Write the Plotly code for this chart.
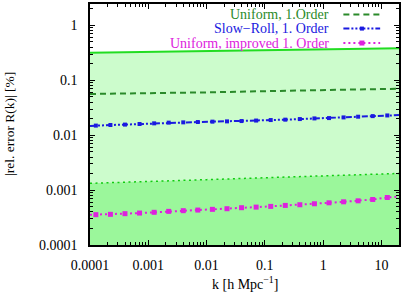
import plotly.graph_objects as go

# ---------------- data ----------------
k_env = [1e-4, 1e-3, 1e-2, 0.1, 1, 10, 20]
uniform_env = [0.317, 0.328, 0.340, 0.352, 0.365, 0.379, 0.385]        # solid green (light fill)
improved_env = [0.00133, 0.00142, 0.00155, 0.00168, 0.00183, 0.00196, 0.00201]  # dotted green (dark fill)
uniform_1st = [0.0564, 0.0578, 0.0603, 0.0634, 0.0666, 0.0694, 0.0703]  # dashed dark green

k_pts = [1.26e-4, 2.24e-4, 3.98e-4, 7.08e-4, 1.26e-3, 2.24e-3, 3.98e-3, 7.08e-3,
         0.0126, 0.0224, 0.0398, 0.0708, 0.126, 0.224, 0.398, 0.708,
         1.26, 2.24, 3.98, 7.08, 12.6]
slowroll_1st = [0.01496, 0.01535, 0.01560, 0.01600, 0.01644, 0.01694, 0.01714, 0.01738,
                0.01766, 0.01786, 0.01811, 0.01849, 0.01888, 0.01919, 0.01968, 0.02023,
                0.02051, 0.02109, 0.02173, 0.02228, 0.02291]
slowroll_ends = [0.01472, 0.02323]
improved_1st = [0.000357, 0.000362, 0.000372, 0.000382, 0.000394, 0.000410, 0.000422, 0.000433,
                0.000446, 0.000458, 0.000478, 0.000490, 0.000505, 0.000526, 0.000541, 0.000564,
                0.000587, 0.000612, 0.000638, 0.000675, 0.000733]
improved_ends = [0.000355, 0.000764]
k_ends = [1e-4, 20]

x_ticks = [1e-4, 1e-3, 1e-2, 0.1, 1, 10]
x_ticktext = ["0.0001", "0.001", "0.01", "0.1", "1", "10"]
y_ticks = [1e-4, 1e-3, 1e-2, 0.1, 1]
y_ticktext = ["0.0001", "0.001", "0.01", "0.1", "1"]

legend_labels = ["Uniform, 1.Order", "Slow\u2212Roll, 1. Order", "Uniform, improved 1. Order"]

# ---------------- style ----------------
FONT = "Liberation Serif"
C_GREEN_DARK = "#2a8a2a"
C_BLUE = "#1a1ae0"
C_MAG = "#dd22dd"
C_LIGHT_FILL = "#ccfccc"
C_DARK_FILL = "#9bf79b"
C_LINE_GREEN = "#22dd22"
C_DOT_GREEN = "#11cc11"

fig = go.Figure()

base = [1e-6] * len(k_env)
fig.add_trace(go.Scatter(x=k_env, y=base, mode="lines", line=dict(width=0), showlegend=False, hoverinfo="skip"))
fig.add_trace(go.Scatter(x=k_env, y=uniform_env, mode="lines", fill="tonexty", fillcolor=C_LIGHT_FILL,
                         line=dict(color=C_LINE_GREEN, width=2), showlegend=False))
fig.add_trace(go.Scatter(x=k_env, y=base, mode="lines", line=dict(width=0), showlegend=False, hoverinfo="skip"))
fig.add_trace(go.Scatter(x=k_env, y=improved_env, mode="lines", fill="tonexty", fillcolor=C_DARK_FILL,
                         line=dict(color=C_DOT_GREEN, width=1.5, dash="2px,3.5px"), showlegend=False))

fig.add_trace(go.Scatter(x=k_env, y=uniform_1st, mode="lines",
                         line=dict(color=C_GREEN_DARK, width=2, dash="6px,4px"), showlegend=False))

k_line = [k_ends[0]] + k_pts + [k_ends[1]]
sr_line = [slowroll_ends[0]] + slowroll_1st + [slowroll_ends[1]]
im_line = [improved_ends[0]] + improved_1st + [improved_ends[1]]

fig.add_trace(go.Scatter(x=k_line, y=sr_line, mode="lines",
                         line=dict(color=C_BLUE, width=2, dash="6px,2px,2px,2px,2px,2px"), showlegend=False))
fig.add_trace(go.Scatter(x=k_pts, y=slowroll_1st, mode="markers",
                         marker=dict(symbol="square", size=4, color=C_BLUE), showlegend=False))
fig.add_trace(go.Scatter(x=k_line, y=im_line, mode="lines",
                         line=dict(color=C_MAG, width=2, dash="2px,3px"), showlegend=False))
fig.add_trace(go.Scatter(x=k_pts, y=improved_1st, mode="markers",
                         marker=dict(symbol="square", size=5, color=C_MAG), showlegend=False))

# ---- manual gnuplot-style legend (text right-aligned, sample on the right) ----
leg_y = [0.956, 0.898, 0.838]
leg_colors = [C_GREEN_DARK, C_BLUE, C_MAG]
sx0, sx1, smid = 0.820, 0.939, 0.880
fig.add_trace(go.Scatter(x=[sx0, sx1], y=[leg_y[0]] * 2, xaxis="x2", yaxis="y2", mode="lines",
                         line=dict(color=C_GREEN_DARK, width=2, dash="6px,4px"), showlegend=False))
fig.add_trace(go.Scatter(x=[sx0, sx1], y=[leg_y[1]] * 2, xaxis="x2", yaxis="y2", mode="lines",
                         line=dict(color=C_BLUE, width=2, dash="6px,2px,2px,2px,2px,2px"), showlegend=False))
fig.add_trace(go.Scatter(x=[smid], y=[leg_y[1]], xaxis="x2", yaxis="y2", mode="markers",
                         marker=dict(symbol="square", size=4, color=C_BLUE), showlegend=False))
fig.add_trace(go.Scatter(x=[sx0, sx1], y=[leg_y[2]] * 2, xaxis="x2", yaxis="y2", mode="lines",
                         line=dict(color=C_MAG, width=2, dash="2px,3px"), showlegend=False))
fig.add_trace(go.Scatter(x=[smid], y=[leg_y[2]], xaxis="x2", yaxis="y2", mode="markers",
                         marker=dict(symbol="square", size=5, color=C_MAG), showlegend=False))

annotations = []
for lab, yy, cc in zip(legend_labels, leg_y, leg_colors):
    annotations.append(dict(text=lab, x=0.781, y=yy, xref="paper", yref="paper",
                            xanchor="right", yanchor="middle", showarrow=False,
                            font=dict(family=FONT, size=14, color=cc)))
annotations.append(dict(text="|rel. error R(k)| [%]", x=-0.2605, y=0.5, xref="paper", yref="paper",
                        textangle=-90, xanchor="center", yanchor="middle", showarrow=False,
                        font=dict(family=FONT, size=13.5, color="black")))
annotations.append(dict(text="k [h Mpc<sup>\u22121</sup>]", x=0.5, y=-0.156, xref="paper", yref="paper",
                        xanchor="center", yanchor="middle", showarrow=False,
                        font=dict(family=FONT, size=14, color="black")))

minor_x = [m * 10.0 ** e for e in range(-4, 2) for m in range(2, 10)]
minor_y = [m * 10.0 ** e for e in range(-4, 1) for m in range(2, 10)]

axis_common = dict(showline=True, linecolor="black", linewidth=1.5, mirror="allticks",
                   ticks="inside", ticklen=5, tickwidth=1, tickcolor="black",
                   showgrid=False, zeroline=False,
                   tickfont=dict(family=FONT, size=14, color="black"))

fig.update_layout(
    width=403, height=292,
    margin=dict(l=90, r=2, t=2, b=47),
    paper_bgcolor="white", plot_bgcolor="white",
    showlegend=False,
    xaxis=dict(type="log", range=[-4, 1.301], tickmode="array", tickvals=x_ticks, ticktext=x_ticktext,
               ticklabelstandoff=6,
               minor=dict(ticks="inside", ticklen=3, tickcolor="black", tickmode="array", tickvals=minor_x),
               **axis_common),
    yaxis=dict(type="log", range=[-4, 0.39], tickmode="array", tickvals=y_ticks, ticktext=y_ticktext,
               ticklabelstandoff=8,
               minor=dict(ticks="inside", ticklen=3, tickcolor="black", tickmode="array", tickvals=minor_y),
               **axis_common),
    xaxis2=dict(overlaying="x", range=[0, 1], visible=False, anchor="y2"),
    yaxis2=dict(overlaying="y", range=[0, 1], visible=False, anchor="x2"),
    annotations=annotations,
)

fig.write_html("out.html", config={"displayModeBar": False},
               post_script="document.body.style.margin='0';document.body.style.overflow='hidden';")
